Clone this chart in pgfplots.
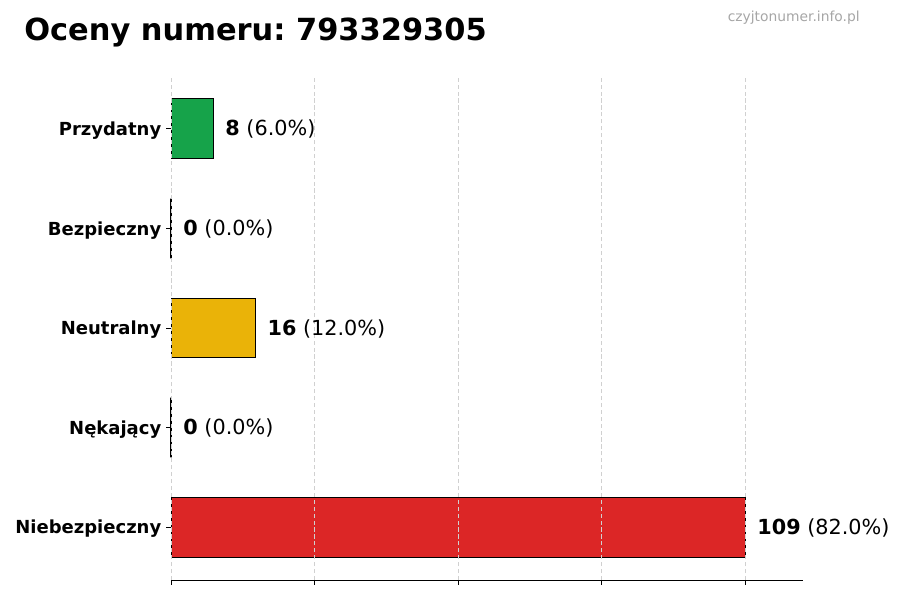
\documentclass[border=0pt]{standalone}
\usepackage{pgfplots}
\pgfplotsset{compat=1.18}
\usepackage{fontspec}
\setmainfont{DejaVu Sans}
\frenchspacing
\definecolor{cgreen}{HTML}{16A34A}
\definecolor{cyellow}{HTML}{EAB308}
\definecolor{cred}{HTML}{DC2626}
\definecolor{gridc}{HTML}{D0D0D0}

\begin{document}
\begin{tikzpicture}
% 1px = 0.7227pt, picture is 900x600 px
\useasboundingbox (0,0) rectangle (650.43pt,-433.62pt);
\node[anchor=base west, font=\bfseries\fontsize{22}{26}\selectfont, inner sep=0pt] at (17.34pt,-28.91pt) {Oceny numeru: 793329305};
\node[anchor=base east, font=\fontsize{10}{12}\selectfont, text=black!35, inner sep=0pt] at (621.5pt,-15.18pt) {czyjtonumer.info.pl};
\begin{axis}[
  at={(123.58pt,-419.17pt)}, anchor=south west,
  scale only axis, width=456.75pt, height=364.24pt,
  xbar, bar width=0.6, bar shift=0pt,
  xmin=0, xmax=120, ymin=-0.53, ymax=4.53,
  enlargelimits=false, clip=false,
  xtick={0,27.25,54.5,81.75,109}, xticklabels={},
  ytick={0,1,2,3,4},
  yticklabels={Niebezpieczny,Nękający,Neutralny,Bezpieczny,Przydatny},
  axis x line*=bottom, axis y line*=left,
  y axis line style={draw=none},
  x axis line style={line width=0.7pt},
  tick align=outside, major tick length=3.5pt,
  tick style={black, line width=0.6pt},
  xmajorgrids, major x grid style={gridc, line width=0.5pt, dash pattern=on 3pt off 2pt},
  axis on top,
  y tick label style={font=\bfseries\fontsize{13}{15}\selectfont, yshift=-1.3pt},
  every node near coord/.append style={anchor=west, xshift=5.2pt, yshift=-0.5pt, font=\fontsize{15}{18}\selectfont},
]
\addplot[fill=cred, draw=black, line width=0.7pt, nodes near coords={\textbf{109} (82.0\%)}] coordinates {(109,0)};
\addplot[fill=white, draw=black, line width=0.9pt, nodes near coords={\textbf{0} (0.0\%)}] coordinates {(0,1)};
\addplot[fill=cyellow, draw=black, line width=0.7pt, nodes near coords={\textbf{16} (12.0\%)}] coordinates {(16,2)};
\addplot[fill=white, draw=black, line width=0.9pt, nodes near coords={\textbf{0} (0.0\%)}] coordinates {(0,3)};
\addplot[fill=cgreen, draw=black, line width=0.7pt, nodes near coords={\textbf{8} (6.0\%)}] coordinates {(8,4)};
\end{axis}
\end{tikzpicture}
\end{document}
